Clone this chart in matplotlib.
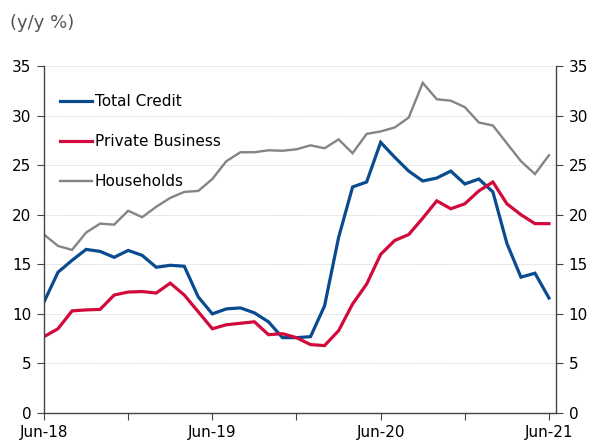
import numpy as np
import pandas as pd
import matplotlib
matplotlib.use('Agg')
import matplotlib.pyplot as plt

# monthly, Jun-18 .. Jun-21
months = pd.date_range('2018-06-01', periods=37, freq='MS')

total_credit = [11.2, 14.2, 15.4, 16.5, 16.3, 15.7, 16.4, 15.9, 14.7, 14.9, 14.8, 11.7,
                10.0, 10.5, 10.6, 10.1, 9.2, 7.6, 7.6, 7.7, 10.8, 17.7, 22.8, 23.3,
                27.3, 25.8, 24.4, 23.4, 23.7, 24.4, 23.1, 23.6, 22.3, 17.1, 13.7, 14.1, 11.6]
private_business = [7.7, 8.5, 10.3, 10.4, 10.45, 11.9, 12.2, 12.25, 12.1, 13.1, 11.9, 10.2,
                    8.5, 8.9, 9.05, 9.2, 7.9, 8.0, 7.6, 6.9, 6.8, 8.3, 11.0, 13.0,
                    16.0, 17.4, 18.0, 19.65, 21.4, 20.6, 21.1, 22.4, 23.3, 21.1, 20.0, 19.1, 19.1]
households = [18.0, 16.85, 16.45, 18.2, 19.1, 19.0, 20.4, 19.75, 20.8, 21.7, 22.3, 22.4,
              23.6, 25.4, 26.3, 26.3, 26.5, 26.45, 26.6, 27.0, 26.7, 27.6, 26.2, 28.15,
              28.4, 28.8, 29.8, 33.3, 31.65, 31.5, 30.85, 29.3, 29.0, 27.2, 25.4, 24.1, 26.0]

series_names = ['Total Credit', 'Private Business', 'Households']

plt.rcParams['font.family'] = 'DejaVu Sans'
plt.rcParams['font.size'] = 10

fig = plt.figure(figsize=(5.91, 4.41), dpi=100)
ax = fig.add_axes([44 / 591, 1 - 413 / 441, (556 - 44) / 591, (413 - 66) / 441])

x = np.arange(len(months))
ax.plot(x, total_credit, color='#0a4a8e', lw=2.3, label=series_names[0], solid_joinstyle='miter')
ax.plot(x, private_business, color='#d20a3c', lw=2.3, label=series_names[1], solid_joinstyle='miter')
ax.plot(x, households, color='#848484', lw=1.7, label=series_names[2], solid_joinstyle='miter')

ax.set_xlim(0, 36.5)
ax.set_ylim(0, 35)
ax.set_yticks(np.arange(0, 36, 5))
ax.grid(axis='y', color='#d4d4d4', linestyle=(0, (1, 1)), linewidth=0.7)
ax.set_axisbelow(True)

# ticks every 6 months, labels on Jun only
ax.set_xticks(x[::6])
ax.set_xticklabels([m.strftime('%b-%y') if m.month == 6 else '' for m in months[::6]])

ax.tick_params(axis='y', left=True, right=True, labelleft=True, labelright=True,
               direction='out', length=5, color='#444444', labelsize=11, pad=4)
ax.tick_params(axis='x', direction='out', length=5, color='#444444', labelsize=11, pad=4)

for side in ['left', 'right', 'bottom']:
    ax.spines[side].set_color('#444444')
    ax.spines[side].set_linewidth(1.0)
ax.spines['top'].set_visible(False)

ax.legend(loc='upper left', bbox_to_anchor=(0.019, 0.937), frameon=False, fontsize=11,
          handlelength=2.1, handletextpad=0.2, labelspacing=1.65, borderaxespad=0)

fig.text(10 / 591, 1 - 23 / 441, '(y/y %)', color='#555555', fontsize=13, va='center')

fig.savefig('out.png', dpi=100)
